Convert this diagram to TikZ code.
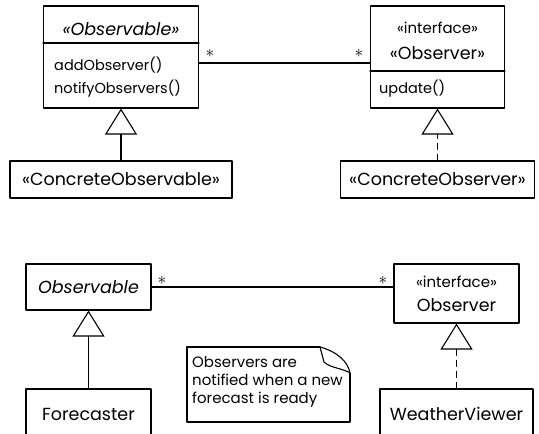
\documentclass[tikz,border=0pt]{standalone}
\usepackage{fontspec}
\setmainfont{Poppins}
\usetikzlibrary{arrows.meta}

\begin{document}
\begin{tikzpicture}[line cap=round,line join=round,x=1pt,y=-1pt,
  box/.style={draw,line width=1.1pt,inner sep=0pt},
  title/.style={font=\fontsize{17.5}{20}\selectfont},
  meth/.style={font=\fontsize{14.5}{17}\selectfont,anchor=west,inner sep=0pt},
  stereo/.style={font=\fontsize{15}{17}\selectfont,inner sep=0pt},
  mult/.style={font=\fontsize{18}{18}\selectfont,inner sep=0pt},
  inherit/.style={line width=1.1pt,-{Triangle[open,length=26pt,width=32pt]}},
  realize/.style={inherit,dash pattern=on 6pt off 5pt}]
\useasboundingbox (0,0) rectangle (539,434);
\clip (0,0) rectangle (539,434);

% the pattern
\node[box,minimum width=155,minimum height=102] (obs1) at (121,57) {};
\draw[line width=1.1pt] (obs1.west |- 0,43) -- (obs1.east |- 0,43);
\node[title,inner sep=0pt] (obs1name) at (121,29) {\itshape «Observable»};
\node[meth] (obs1add) at (54,65) {addObserver()};
\node[meth] (obs1notify) at (54,89) {notifyObservers()};

\node[box,minimum width=134,minimum height=102] (observer1) at (437.5,57) {};
\draw[line width=1.1pt] (observer1.west |- 0,71) -- (observer1.east |- 0,71);
\node[stereo] (observer1ster) at (437.5,28) {«interface»};
\node[title,inner sep=0pt] (observer1name) at (437.5,53) {«Observer»};
\node[meth] (observer1upd) at (379,89) {update()};

\draw[line width=1.1pt] ([yshift=-6pt]obs1.east) -- ([yshift=-6pt]observer1.west);
\node[mult] (m1a) at (210,53) {$\ast$};
\node[mult] (m1b) at (359,53) {$\ast$};

\node[box,title,minimum width=222,minimum height=37] (cobs1) at (121,179.5) {«ConcreteObservable»};
\node[box,title,minimum width=194,minimum height=37] (cobsr1) at (437.5,179.5) {«ConcreteObserver»};
\draw[inherit] (cobs1) -- (obs1);
\draw[realize] (cobsr1) -- (observer1);

% the weather example
\node[box,title,minimum width=125,minimum height=46] (obs2) at (88.5,287) {\itshape Observable};
\node[box,minimum width=125,minimum height=59] (observer2) at (456.5,293.5) {};
\node[stereo] (observer2ster) at (456.5,282) {«interface»};
\node[title,inner sep=0pt] (observer2name) at (456.5,305) {Observer};

\draw[line width=1.1pt] (obs2.east) -- (obs2.east -| observer2.west);
\node[mult] (m2a) at (162,280) {$\ast$};
\node[mult] (m2b) at (383,280) {$\ast$};

\node[box,title,minimum width=125,minimum height=50] (forecaster) at (88.5,414) {Forecaster};
\node[box,title,minimum width=153,minimum height=50] (viewer) at (456.5,414) {WeatherViewer};
\draw[inherit] (forecaster) -- (obs2);
\draw[realize] (viewer) -- (observer2);

% note with folded corner
\draw[line width=1.1pt] (320,347) -- (187,347) -- (187,422) -- (350,422) -- (350,373);
\draw[line width=1.1pt] (320,347) .. controls (338,352) and (348,362) .. (350,373);
\draw[line width=1.1pt] (320,347) -- (324,362) .. controls (330,368) and (342,368) .. (350,373);
\node[anchor=west,align=left,inner sep=0pt,font=\fontsize{15}{18}\selectfont] (note) at (192,382)
  {Observers are\\notified when a new\\forecast is ready};
\end{tikzpicture}
\end{document}
